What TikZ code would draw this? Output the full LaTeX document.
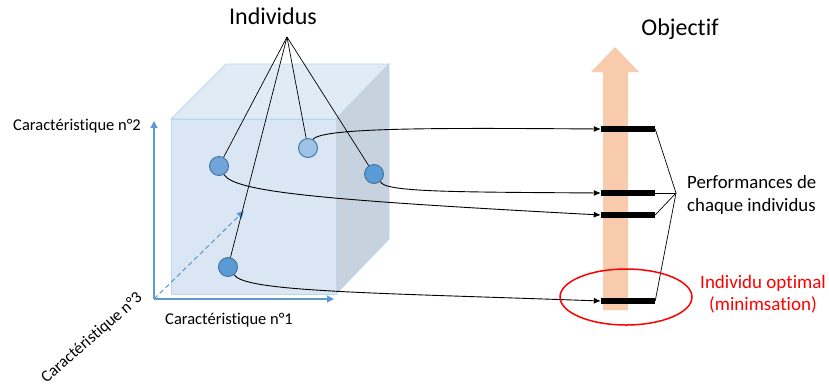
\documentclass[tikz,border=0pt]{standalone}
\usepackage{fontspec}
\setmainfont{Carlito}[Ligatures=NoCommon]
\usetikzlibrary{arrows.meta}
\definecolor{axisblue}{HTML}{5B9BD5}
\definecolor{cubefront}{HTML}{DAE6F3}
\definecolor{cubetop}{HTML}{E1EBF6}
\definecolor{cubeside}{HTML}{C6D3DE}
\definecolor{cubeedge}{HTML}{BDD5EC}
\definecolor{dotedge}{HTML}{41719C}
\definecolor{dotA}{HTML}{6FA5D8}
\definecolor{dotB}{HTML}{9DC3E6}
\definecolor{dotC}{HTML}{5B9BD5}
\definecolor{orangearrow}{HTML}{F8CBAD}
\begin{document}
\begin{tikzpicture}[x=1pt,y=-1pt,
  indiv/.style={circle,draw=dotedge,line width=0.9pt,minimum size=19pt,inner sep=0pt},
  perfbar/.style={rectangle,fill=black,minimum width=54pt,minimum height=6pt,inner sep=0pt},
  link/.style={black,line width=0.9pt,-{Latex[length=7pt,width=6pt]}},
  ptr/.style={black,line width=0.7pt},
  axisline/.style={axisblue,line width=1.2pt,-{Triangle[length=7pt,width=7pt]}},
  lbl/.style={inner sep=0pt,font=\fontsize{16.5}{19}\selectfont}
]
\useasboundingbox (0,0) rectangle (829,389);
% cube
\fill[cubetop,draw=cubeedge,line width=0.8pt] (171,119) -- (226,64) -- (389,64) -- (336,119) -- cycle;
\fill[cubeside,draw=cubeedge,line width=0.8pt] (336,119) -- (389,64) -- (389,239) -- (336,294) -- cycle;
\fill[cubefront,draw=cubeedge,line width=0.8pt] (171,119) rectangle (336,294);
% axes
\coordinate (O) at (154,299);
\coordinate (Y) at (154,121);
\coordinate (X) at (334,299);
\coordinate (Z) at (244,211);
\draw[axisline] (O) -- (Y);
\draw[axisline] (O) -- (X);
\draw[axisline,dashed,line width=1pt,dash pattern=on 5pt off 3pt] (O) -- (Z);
\node[lbl,anchor=east] (l2) at (141,126) {Caractéristique n°2};
\node[lbl] (l1) at (229,320) {Caractéristique n°1};
\node[lbl,rotate=41] (l3) at (92,338) {Caractéristique n°3};
% orange arrow
\fill[orangearrow] (603,310) -- (603,72) -- (591,72) -- (615,47) -- (639,72) -- (628,72) -- (628,310) -- cycle;
% individuals
\node[indiv,fill=dotA] (A) at (219,166) {};
\node[indiv,fill=dotB] (B) at (308,148) {};
\node[indiv,fill=dotC] (C) at (374,174) {};
\node[indiv,fill=dotC] (D) at (228,267) {};
\node[inner sep=0pt,anchor=base,font=\fontsize{24}{28}\selectfont] (ind) at (273,24) {Individus};
\coordinate (apex) at (287,37);
\draw[ptr] (apex) -- (A);
\draw[ptr] (apex) -- (B);
\draw[ptr] (apex) -- (C);
\draw[ptr] (apex) -- (D);
% bars
\node[perfbar] (b1) at (628,129) {};
\node[perfbar] (b2) at (628,193) {};
\node[perfbar] (b3) at (628,215) {};
\node[perfbar] (b4) at (628,301) {};
\draw[link] (B.60) .. controls (322,127) and (450,128) .. (b1.west);
\draw[link] (C.-50) .. controls (384,192) and (450,192) .. (b2.west);
\draw[link] (A.-60) .. controls (235,192) and (320,200) .. (b3.west);
\draw[link] (D.-50) .. controls (242,292) and (380,293) .. (b4.west);
% bracket
\coordinate (br) at (676,193);
\draw[ptr] (b1.east) -- (br);
\draw[ptr,line width=1pt] (b2.east) -- (br);
\draw[ptr] (b3.east) -- (br);
\draw[ptr] (b4.east) -- (br);
\node[inner sep=0pt,anchor=base,font=\fontsize{24}{28}\selectfont] (obj) at (680,35) {Objectif};
\node[inner sep=0pt,anchor=west,align=left,font=\fontsize{18.8}{23}\selectfont] (perf) at (687,195) {Performances de\\chaque individus};
% optimal
\draw[red,line width=1.5pt] (626,297) ellipse [x radius=66, y radius=28];
\node[inner sep=0pt,align=center,text=red,font=\fontsize{19}{22}\selectfont] (opt) at (763,294) {Individu optimal\\(minimsation)};
\end{tikzpicture}
\end{document}
